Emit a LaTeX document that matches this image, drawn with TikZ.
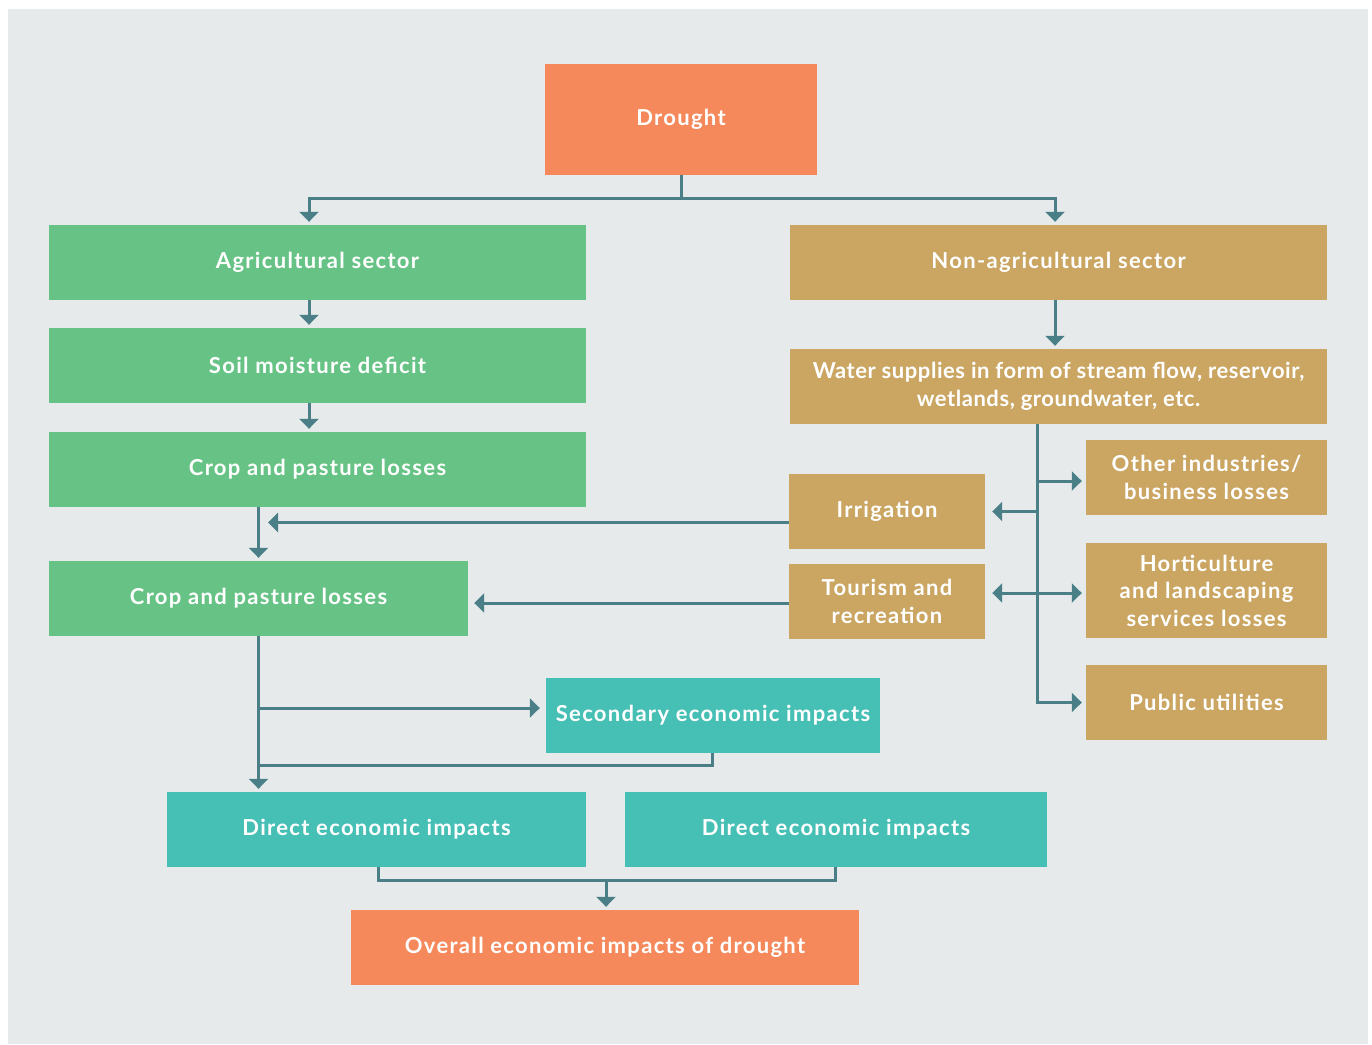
\documentclass[tikz,border=0pt]{standalone}
\usepackage{fontspec}
\setmainfont{Lato}[LetterSpace=6]
\usetikzlibrary{arrows.meta}
\definecolor{pagebg}{HTML}{E6EAEB}
\definecolor{droughtorange}{HTML}{F5895B}
\definecolor{agrigreen}{HTML}{67C385}
\definecolor{sectortan}{HTML}{CAA662}
\definecolor{impactteal}{HTML}{46BFB5}
\definecolor{linkblue}{HTML}{4A7F88}
\begin{document}
\begin{tikzpicture}[x=1pt,y=-1pt,
  box/.style={rectangle, inner sep=0pt, text=white, align=center,
    font=\bfseries\fontsize{22}{27.5}\selectfont},
  orangebox/.style={box, fill=droughtorange},
  greenbox/.style={box, fill=agrigreen},
  tanbox/.style={box, fill=sectortan},
  tealbox/.style={box, fill=impactteal},
  link/.style={draw=linkblue, line width=3pt},
  conn/.style={link, -{Triangle[width=19pt,length=10pt]}, shorten >=3pt},
  twoway/.style={link, {Triangle[width=19pt,length=10pt]}-{Triangle[width=19pt,length=10pt]}}]

% page and panel
\fill[white] (0,0) rectangle (1372,1044);
\fill[pagebg] (8,9) rectangle (1368,1044);

% boxes
\node[orangebox, minimum width=272pt, minimum height=111pt] (drought) at (681,119.5) {Drought};
\node[greenbox, minimum width=537pt, minimum height=75pt] (agri) at (317.5,262.5) {Agricultural sector};
\node[tanbox, minimum width=537pt, minimum height=75pt] (nonag) at (1058.5,262.5) {Non-agricultural sector};
\node[greenbox, minimum width=537pt, minimum height=75pt] (soil) at (317.5,365.5) {Soil moisture deficit};
\node[greenbox, minimum width=537pt, minimum height=75pt] (crop1) at (317.5,469.5) {Crop and pasture losses};
\node[tanbox, minimum width=537pt, minimum height=75pt,
  font=\bfseries\fontsize{22}{27.5}\selectfont\addfontfeatures{LetterSpace=2.5}] (water) at (1058.5,386.5)
  {Water supplies in form of stream flow, reservoir,\\wetlands, groundwater, etc.};
\node[tanbox, minimum width=241pt, minimum height=75pt] (other) at (1206.5,477.5) {Other industries/\\business losses};
\node[tanbox, minimum width=196pt, minimum height=75pt] (irrig) at (887,511.5) {Irrigation};
\node[tanbox, minimum width=196pt, minimum height=75pt] (tour) at (887,601.5) {Tourism and\\recreation};
\node[tanbox, minimum width=241pt, minimum height=95pt] (hort) at (1206.5,590.5) {Horticulture\\and landscaping\\services losses};
\node[tanbox, minimum width=241pt, minimum height=75pt] (public) at (1206.5,702.5) {Public utilities};
\node[greenbox, minimum width=419pt, minimum height=75pt] (crop2) at (258.5,598.5) {Crop and pasture losses};
\node[tealbox, minimum width=334pt, minimum height=75pt] (second) at (713,715.5) {Secondary economic impacts};
\node[tealbox, minimum width=419pt, minimum height=75pt] (direct1) at (376.5,829.5) {Direct economic impacts};
\node[tealbox, minimum width=422pt, minimum height=75pt] (direct2) at (836,829.5) {Direct economic impacts};
\node[orangebox, minimum width=508pt, minimum height=75pt] (overall) at (605,947.5) {Overall economic impacts of drought};

% split below the drought box
\draw[conn] (drought.south) -- ++(0,23) -| ([xshift=-8.5pt]agri.north);
\draw[conn] (drought.south) -- ++(0,23) -| ([xshift=-3.5pt]nonag.north);

% agricultural chain
\draw[conn] ([xshift=-8.5pt]agri.south) -- ([xshift=-8.5pt]soil.north);
\draw[conn] ([xshift=-8.5pt]soil.south) -- ([xshift=-8.5pt]crop1.north);
\draw[conn] (crop2.north |- crop1.south) -- (crop2.north);
\coordinate (irrtip) at (268,522.5);
\draw[conn, shorten >=0pt] ([yshift=-11pt]irrig.west) -- (irrtip);
\draw[conn, shorten >=6pt] ([yshift=-1.5pt]tour.west) -- ([yshift=-1.5pt]tour.west -| crop2.east);

% non-agricultural chain
\draw[conn] ([xshift=-3.5pt]nonag.south) -- ([xshift=-3.5pt]water.north);
\coordinate (trunk) at ([xshift=-21.5pt]water.south);
\draw[conn, shorten >=4pt] (trunk) |- (public.west);
\draw[conn, shorten >=4pt] ([yshift=-3.5pt]trunk |- other.west) -- ([yshift=-3.5pt]other.west);
\draw[conn, shorten >=7pt] (trunk |- irrig.east) -- (irrig.east);
\coordinate (tourfork) at (1037,593);
\draw[twoway, shorten <=7pt, shorten >=4pt] (tourfork -| tour.east) -- (tourfork -| hort.west);

% economic impacts
\draw[conn] (crop2.south) -- (crop2.south |- direct1.north);
\draw[conn, shorten >=6pt] ([yshift=7.5pt]crop2.south |- second.west) -- ([yshift=7.5pt]second.west);
\coordinate (secback) at (259,765);
\draw[link] ([xshift=-1pt]second.south) |- (secback);
\draw[link] ([xshift=1.5pt]direct1.south) -- ++(0,13) -| ([xshift=-1pt]direct2.south);
\coordinate (join) at (606,880);
\draw[conn] (join) -- (join |- overall.north);
\end{tikzpicture}
\end{document}
